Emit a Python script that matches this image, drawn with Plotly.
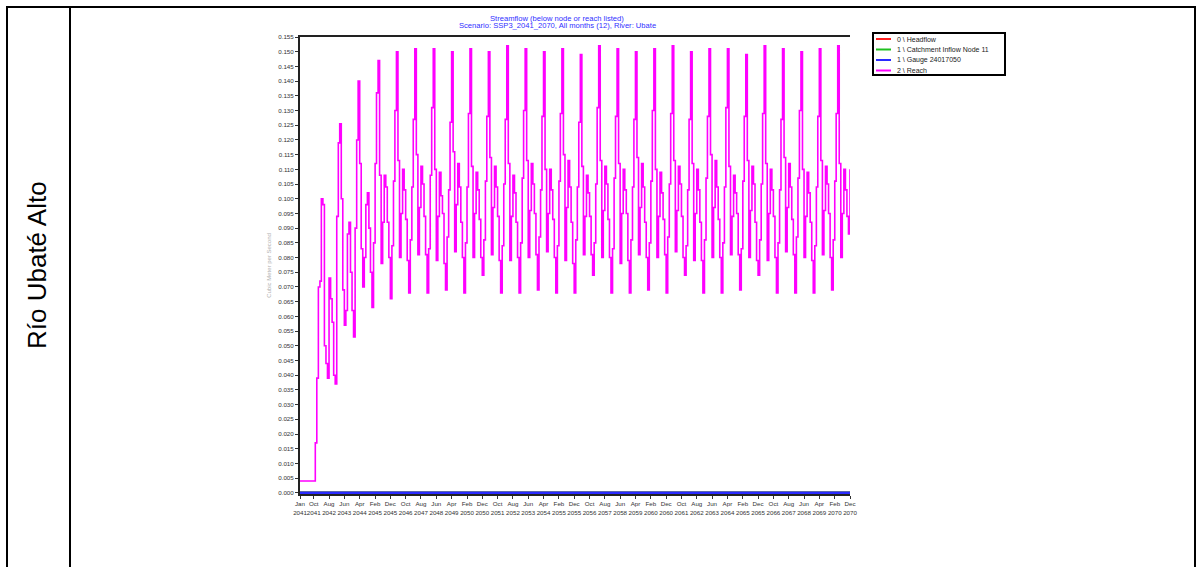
import pandas as pd
import plotly.graph_objects as go

W, H = 1201, 567

# ---------------- data ----------------
start_month = "2041-01-01"
n_months = 360

reach_2041 = [0.004, 0.004, 0.004, 0.004, 0.004, 0.004, 0.004, 0.004, 0.004, 0.004, 0.017, 0.039]
reach_2042 = [0.070, 0.072, 0.100, 0.098, 0.050, 0.044, 0.039, 0.073, 0.066, 0.058, 0.040, 0.037]
reach_2043 = [0.094, 0.119, 0.1255, 0.100, 0.069, 0.057, 0.062, 0.088, 0.092, 0.075, 0.062, 0.053]
reach_2044 = [0.090, 0.120, 0.140, 0.112, 0.083, 0.070, 0.080, 0.098, 0.102, 0.090, 0.075, 0.063]
reach_2045 = [0.085, 0.112, 0.136, 0.147, 0.108, 0.078, 0.092, 0.108, 0.104, 0.092, 0.080, 0.066]
reach_2046 = [0.084, 0.106, 0.130, 0.150, 0.113, 0.080, 0.095, 0.110, 0.103, 0.093, 0.079, 0.068]
reach_2047 = [0.086, 0.104, 0.127, 0.151, 0.115, 0.081, 0.097, 0.111, 0.105, 0.094, 0.081, 0.068]
reach_2048 = [0.083, 0.108, 0.131, 0.151, 0.110, 0.079, 0.094, 0.109, 0.101, 0.095, 0.078, 0.069]
reach_2049 = [0.087, 0.103, 0.126, 0.150, 0.116, 0.082, 0.098, 0.112, 0.104, 0.092, 0.080, 0.068]
reach_2050 = [0.085, 0.104, 0.129, 0.151, 0.111, 0.080, 0.095, 0.109, 0.103, 0.093, 0.080, 0.074]
reach_2051 = [0.086, 0.106, 0.128, 0.150, 0.114, 0.081, 0.097, 0.111, 0.104, 0.094, 0.079, 0.068]
reach_2052 = [0.084, 0.105, 0.127, 0.152, 0.112, 0.079, 0.094, 0.108, 0.102, 0.092, 0.080, 0.068]
reach_2053 = [0.085, 0.107, 0.130, 0.151, 0.113, 0.080, 0.096, 0.112, 0.105, 0.095, 0.081, 0.069]
reach_2054 = [0.087, 0.103, 0.128, 0.150, 0.110, 0.082, 0.095, 0.110, 0.103, 0.093, 0.080, 0.068]
reach_2055 = [0.084, 0.106, 0.129, 0.151, 0.115, 0.079, 0.097, 0.113, 0.104, 0.092, 0.078, 0.068]
reach_2056 = [0.086, 0.104, 0.126, 0.149, 0.111, 0.081, 0.094, 0.108, 0.102, 0.094, 0.081, 0.074]
reach_2057 = [0.085, 0.105, 0.131, 0.152, 0.113, 0.080, 0.096, 0.111, 0.105, 0.093, 0.080, 0.068]
reach_2058 = [0.083, 0.107, 0.128, 0.151, 0.112, 0.078, 0.095, 0.110, 0.103, 0.095, 0.079, 0.068]
reach_2059 = [0.086, 0.104, 0.127, 0.150, 0.114, 0.081, 0.097, 0.112, 0.104, 0.092, 0.080, 0.069]
reach_2060 = [0.085, 0.106, 0.130, 0.151, 0.110, 0.080, 0.094, 0.109, 0.102, 0.093, 0.081, 0.068]
reach_2061 = [0.087, 0.105, 0.129, 0.152, 0.113, 0.082, 0.096, 0.111, 0.105, 0.094, 0.080, 0.074]
reach_2062 = [0.084, 0.103, 0.127, 0.150, 0.112, 0.079, 0.095, 0.110, 0.103, 0.092, 0.079, 0.068]
reach_2063 = [0.086, 0.107, 0.128, 0.151, 0.115, 0.080, 0.097, 0.113, 0.104, 0.093, 0.080, 0.068]
reach_2064 = [0.085, 0.104, 0.131, 0.151, 0.111, 0.081, 0.094, 0.108, 0.102, 0.095, 0.081, 0.069]
reach_2065 = [0.083, 0.106, 0.128, 0.149, 0.113, 0.080, 0.096, 0.111, 0.105, 0.092, 0.079, 0.074]
reach_2066 = [0.086, 0.105, 0.129, 0.152, 0.112, 0.079, 0.095, 0.110, 0.103, 0.094, 0.080, 0.068]
reach_2067 = [0.085, 0.103, 0.127, 0.151, 0.114, 0.082, 0.097, 0.112, 0.104, 0.093, 0.081, 0.068]
reach_2068 = [0.087, 0.107, 0.130, 0.150, 0.110, 0.080, 0.094, 0.109, 0.102, 0.092, 0.079, 0.068]
reach_2069 = [0.084, 0.104, 0.128, 0.151, 0.113, 0.081, 0.096, 0.111, 0.105, 0.095, 0.080, 0.069]
reach_2070 = [0.086, 0.106, 0.129, 0.152, 0.112, 0.080, 0.095, 0.110, 0.103, 0.094, 0.088, 0.110]

reach_years = [
    reach_2041, reach_2042, reach_2043, reach_2044, reach_2045, reach_2046,
    reach_2047, reach_2048, reach_2049, reach_2050, reach_2051, reach_2052,
    reach_2053, reach_2054, reach_2055, reach_2056, reach_2057, reach_2058,
    reach_2059, reach_2060, reach_2061, reach_2062, reach_2063, reach_2064,
    reach_2065, reach_2066, reach_2067, reach_2068, reach_2069, reach_2070,
]

headflow = [0.0] * n_months
catchment_inflow = [0.0] * n_months
gauge = [0.0] * n_months

series_names = ["0 \\ Headflow", "1 \\ Catchment Inflow Node 11",
                "1 \\ Gauge 24017050", "2 \\ Reach"]
series_colors = ["#ff2020", "#20c020", "#2a2aff", "#ff00ff"]

tick_dates = ["2041-01", "2041-10", "2042-08", "2043-06", "2044-04", "2045-02",
              "2045-12", "2046-10", "2047-08", "2048-06", "2049-04", "2050-02",
              "2050-12", "2051-10", "2052-08", "2053-06", "2054-04", "2055-02",
              "2055-12", "2056-10", "2057-08", "2058-06", "2059-04", "2060-02",
              "2060-12", "2061-10", "2062-08", "2063-06", "2064-04", "2065-02",
              "2065-12", "2066-10", "2067-08", "2068-06", "2069-04", "2070-02",
              "2070-12"]
month_abbr = ["Jan", "Feb", "Mar", "Apr", "May", "Jun",
              "Jul", "Aug", "Sep", "Oct", "Nov", "Dec"]
y_ticks = [round(0.005 * k, 3) for k in range(32)]

title_lines = ["Streamflow (below node or reach listed)",
               "Scenario: SSP3_2041_2070, All months (12), River: Ubate"]
y_title = "Cubic Meter per Second"
row_label = "Río Ubaté Alto"

# ---------------- build ----------------
months = pd.date_range(start_month, periods=n_months, freq="MS")
reach = [v for yr in reach_years for v in yr]
tick_vals = [d + "-01" for d in tick_dates]
tick_text = [month_abbr[int(d[5:7]) - 1] + "<br>" + d[:4] for d in tick_dates]

fig = go.Figure()
for name, col, vals, w in zip(series_names, series_colors,
                              [headflow, catchment_inflow, gauge, reach],
                              [2.5, 2.5, 2.5, 1.6]):
    fig.add_trace(go.Scatter(x=months, y=vals, mode="lines", name=name,
                             line=dict(color=col, width=w, shape="hv"),
                             showlegend=False))


def px(x):
    return x / W


def py(y):
    return 1 - y / H


x0, x1 = 300, 850
y0, y1 = 37, 494

fig.update_layout(
    width=W, height=H,
    margin=dict(l=0, r=0, t=0, b=0),
    paper_bgcolor="white", plot_bgcolor="white",
    font=dict(family="Liberation Sans, Arial, sans-serif", color="#222"),
    showlegend=False,
    xaxis=dict(domain=[px(x0), px(x1)], type="date",
               range=[months[0], months[-1]],
               tickvals=tick_vals, ticktext=tick_text, tickangle=0,
               tickfont=dict(size=6.2, color="#333"),
               ticks="outside", ticklen=3, tickcolor="#333",
               showgrid=False, zeroline=False,
               showline=True, linecolor="#222", linewidth=2, mirror=True,
               layer="below traces", automargin=False),
    yaxis=dict(domain=[py(y1), py(y0)], range=[-0.0004, 0.155],
               tickvals=y_ticks, tickformat=".3f",
               tickfont=dict(size=6.2, color="#333"),
               ticks="outside", ticklen=3, tickcolor="#333",
               showgrid=False, zeroline=False,
               showline=True, linecolor="#222", linewidth=2, mirror=False,
               layer="below traces", automargin=False,
               title=dict(text=y_title, standoff=6,
                          font=dict(size=6, color="#b0b0b0"))),
)

# chart title (two centred lines, blue)
for i, line in enumerate(title_lines):
    fig.add_annotation(text=line, x=557 / W, y=py(18 + 7.5 * i),
                       xref="paper", yref="paper", xanchor="center",
                       yanchor="middle", showarrow=False,
                       font=dict(size=7.6, color="#3030ff"))

# legend box (compact, WEAP style)
lg_x0, lg_x1, lg_y0, lg_y1 = 873, 1005, 33, 75
fig.add_shape(type="rect", xref="paper", yref="paper",
              x0=px(lg_x0), x1=px(lg_x1), y0=py(lg_y1), y1=py(lg_y0),
              line=dict(color="black", width=2), fillcolor="white")
for i, (name, col) in enumerate(zip(series_names, series_colors)):
    ry = 39 + i * 10.5
    fig.add_shape(type="line", xref="paper", yref="paper",
                  x0=px(876), x1=px(891), y0=py(ry), y1=py(ry),
                  line=dict(color=col, width=2))
    fig.add_annotation(text=name, x=px(895), y=py(ry), xref="paper",
                       yref="paper", xanchor="left", yanchor="middle",
                       showarrow=False,
                       font=dict(size=7, color="#222"))

# table cell borders
line_style = dict(color="black", width=2)
fig.add_shape(type="line", xref="paper", yref="paper",
              x0=px(7), x1=px(7), y0=py(7), y1=0, line=line_style)
fig.add_shape(type="line", xref="paper", yref="paper",
              x0=px(70), x1=px(70), y0=py(7), y1=0, line=line_style)
fig.add_shape(type="line", xref="paper", yref="paper",
              x0=px(1195), x1=px(1195), y0=py(7), y1=0, line=line_style)
fig.add_shape(type="line", xref="paper", yref="paper",
              x0=px(6), x1=px(1196), y0=py(7), y1=py(7), line=line_style)

fig.add_annotation(text=row_label, x=px(37), y=py(265), xref="paper",
                   yref="paper", showarrow=False, textangle=-90,
                   xanchor="center", yanchor="middle",
                   font=dict(size=26, color="black",
                             family="Liberation Sans, Arial, sans-serif"))

fig.write_html(
    "out.html",
    config={"displayModeBar": False},
    post_script="document.body.style.margin='0px';"
                "document.body.style.overflow='hidden';",
)
